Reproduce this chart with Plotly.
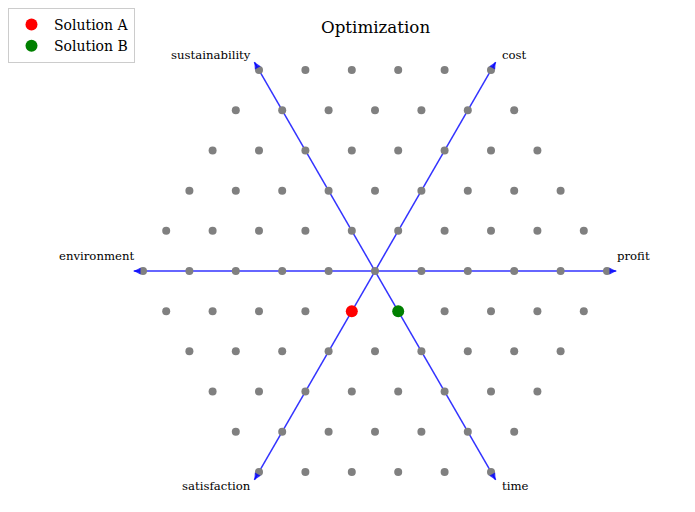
import math
import plotly.graph_objects as go

# ---- data ----
axis_names = ["profit", "cost", "sustainability", "environment", "satisfaction", "time"]
axis_angles_deg = [0, 60, 120, 180, 240, 300]
grid_radius = 5          # hexagonal lattice radius (steps)
arrow_length = 5.2       # axis arrow length in lattice units

solution_names = ["Solution A", "Solution B"]
solution_x = [-0.5, 0.5]
solution_y = [-0.8660254, -0.8660254]
solution_colors = ["red", "green"]

title_text = "Optimization"

# ---- build lattice ----
s3 = math.sqrt(3) / 2
grid_x, grid_y = [], []
for a in range(-grid_radius, grid_radius + 1):
    for b in range(-grid_radius, grid_radius + 1):
        if abs(a + b) <= grid_radius:
            grid_x.append(a + 0.5 * b)
            grid_y.append(s3 * b)

# ---- figure geometry ----
W, H = 695, 512
cx, cy = 375, 271
ppu = 46.4  # pixels per unit
xr = [(0 - cx) / ppu, (W - cx) / ppu]
yr = [(cy - H) / ppu, (cy - 0) / ppu]

blue = "rgba(0,0,255,0.8)"
font = "DejaVu Serif"

fig = go.Figure()

annotations = []
for name, ang in zip(axis_names, axis_angles_deg):
    r = math.radians(ang)
    tx, ty = arrow_length * math.cos(r), arrow_length * math.sin(r)
    fig.add_trace(go.Scatter(x=[0, tx], y=[0, ty], mode="lines",
                             line=dict(color=blue, width=1.5),
                             showlegend=False, hoverinfo="skip"))
    # arrow head
    hx, hy = 5.12 * math.cos(r), 5.12 * math.sin(r)
    annotations.append(dict(x=tx, y=ty, ax=hx, ay=hy, xref="x", yref="y",
                            axref="x", ayref="y", showarrow=True, arrowhead=2,
                            arrowsize=0.9, arrowwidth=1.5, arrowcolor=blue, text=""))
    c = math.cos(r)
    if abs(c) > 0.9:
        xshift, yshift = -1 if c > 0 else 2, 15
    else:
        xshift = 4 if c > 0 else -1
        yshift = 7 if ty > 0 else -6
    annotations.append(dict(x=tx, y=ty, xref="x", yref="y", text=name,
                            showarrow=False, xanchor="left" if c > 0 else "right",
                            yanchor="middle", xshift=xshift, yshift=yshift,
                            font=dict(family=font, size=11.7, color="black")))

fig.add_trace(go.Scatter(x=grid_x, y=grid_y, mode="markers",
                         marker=dict(color="gray", size=8),
                         showlegend=False, hoverinfo="skip"))

for n, x, y, c in zip(solution_names, solution_x, solution_y, solution_colors):
    fig.add_trace(go.Scatter(x=[x], y=[y], mode="markers", name=n,
                             marker=dict(color=c, size=12)))

annotations.append(dict(x=0, y=(cy - 27) / ppu, xref="x", yref="y", text=title_text,
                        showarrow=False, xanchor="center", yanchor="middle",
                        font=dict(family=font, size=16.7, color="black")))

fig.update_layout(
    width=W, height=H, autosize=False,
    margin=dict(l=0, r=0, t=0, b=0),
    paper_bgcolor="white", plot_bgcolor="white",
    xaxis=dict(range=xr, visible=False, fixedrange=True),
    yaxis=dict(range=yr, visible=False, fixedrange=True),
    annotations=annotations,
    font=dict(family=font, size=14, color="black"),
    legend=dict(x=8 / W, y=1 - 8 / H, xanchor="left", yanchor="top",
                bordercolor="#cccccc", borderwidth=1, bgcolor="white",
                itemwidth=35, font=dict(family=font, size=14)),
)

fig.write_html("out.html", config={"displayModeBar": False},
               post_script="document.body.style.margin='0';")
